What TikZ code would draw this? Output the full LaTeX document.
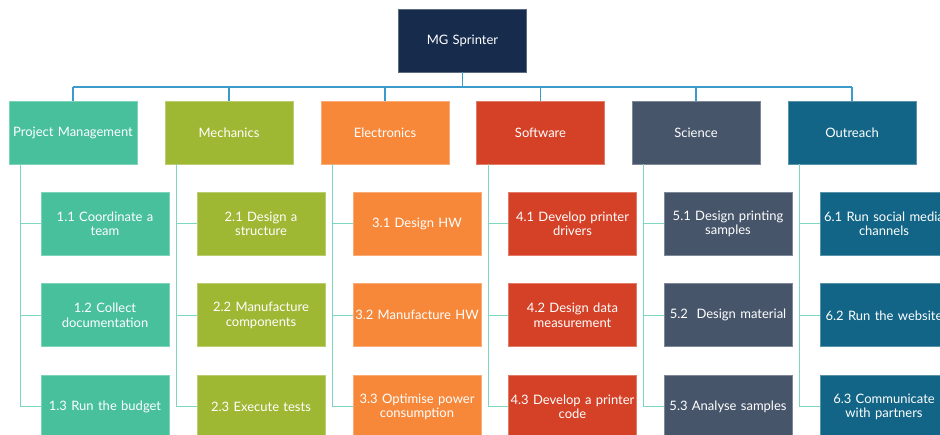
\documentclass[tikz,border=0pt]{standalone}
\usepackage{fontspec}
\setmainfont{Lato}
\definecolor{rootc}{HTML}{172B4D}
\definecolor{pmc}{HTML}{48C09C}
\definecolor{mechc}{HTML}{9EB833}
\definecolor{elecc}{HTML}{F7883A}
\definecolor{softc}{HTML}{D44126}
\definecolor{scic}{HTML}{47556A}
\definecolor{outc}{HTML}{126586}
\definecolor{busc}{HTML}{3D9BC9}
\definecolor{spinec}{HTML}{7FD6C0}
\tikzset{
  box/.style={rectangle, minimum width=128pt, minimum height=63pt, text width=127pt,
    inner sep=0.5pt, align=center, text=white, font=\fontsize{13}{14.5}\selectfont,
    fill=#1, draw=#1!70!white, line width=0.8pt},
  busline/.style={draw=busc, line width=1.3pt},
  spine/.style={draw=spinec, line width=1.2pt},
}
\begin{document}
\begin{tikzpicture}[x=1pt, y=-1pt]
\useasboundingbox (0,0) rectangle (940,434);
\clip (0,0) rectangle (940,434);
\fill[white] (0,0) rectangle (940,434);

% top level
\node[box=rootc] (root) at (462.5,40.5) {MG Sprinter};

% work packages
\node[box=pmc]   (pm)   at (73,132.5)  {Project Management};
\node[box=mechc] (mech) at (229,132.5) {Mechanics};
\node[box=elecc] (elec) at (385,132.5) {Electronics};
\node[box=softc] (soft) at (540.5,132.5) {Software};
\node[box=scic]  (sci)  at (696,132.5) {Science};
\node[box=outc]  (out)  at (852,132.5) {Outreach};

% tasks
\node[box=pmc] (p1) at (105,223.8) {1.1 Coordinate a\\team};
\node[box=pmc] (p2) at (105,315.3) {1.2 Collect\\documentation};
\node[box=pmc] (p3) at (105,406.8) {1.3 Run the budget};

\node[box=mechc] (m1) at (261,223.8) {2.1 Design a\\structure};
\node[box=mechc] (m2) at (261,315.3) {2.2 Manufacture\\components};
\node[box=mechc] (m3) at (261,406.8) {2.3 Execute tests};

\node[box=elecc] (e1) at (417,223.8) {3.1 Design HW};
\node[box=elecc] (e2) at (417,315.3) {3.2 Manufacture HW};
\node[box=elecc] (e3) at (417,406.8) {3.3 Optimise power\\consumption};

\node[box=softc] (s1) at (572.5,223.8) {4.1 Develop printer\\drivers};
\node[box=softc] (s2) at (572.5,315.3) {4.2 Design data\\measurement};
\node[box=softc] (s3) at (572.5,406.8) {4.3 Develop a printer\\code};

\node[box=scic] (c1) at (728,223.8) {5.1 Design printing\\samples};
\node[box=scic] (c2) at (728,315.3) {5.2\ \ Design material};
\node[box=scic] (c3) at (728,406.8) {5.3 Analyse samples};

\node[box=outc] (o1) at (884,223.8) {6.1 Run social media\\channels};
\node[box=outc] (o2) at (884,315.3) {6.2 Run the website};
\node[box=outc] (o3) at (884,406.8) {6.3 Communicate\\with partners};

% bus from the top box to the work packages
\coordinate (bus) at (0,87);
\draw[busline] (root.south) -- (root.south |- bus);
\draw[busline] (pm.north |- bus) -- (out.north |- bus);
\foreach \n in {pm,mech,elec,soft,sci,out}
  \draw[busline] (\n.north |- bus) -- (\n.north);

% spines from each work package to its tasks
\foreach \n/\a/\b/\c in {pm/p1/p2/p3, mech/m1/m2/m3, elec/e1/e2/e3,
                         soft/s1/s2/s3, sci/c1/c2/c3, out/o1/o2/o3} {
  \coordinate (sp-\n) at ([xshift=12pt]\n.south west);
  \draw[spine] (sp-\n) |- (\c.west);
  \draw[spine] (sp-\n |- \a.west) -- (\a.west);
  \draw[spine] (sp-\n |- \b.west) -- (\b.west);
}
\end{tikzpicture}
\end{document}
